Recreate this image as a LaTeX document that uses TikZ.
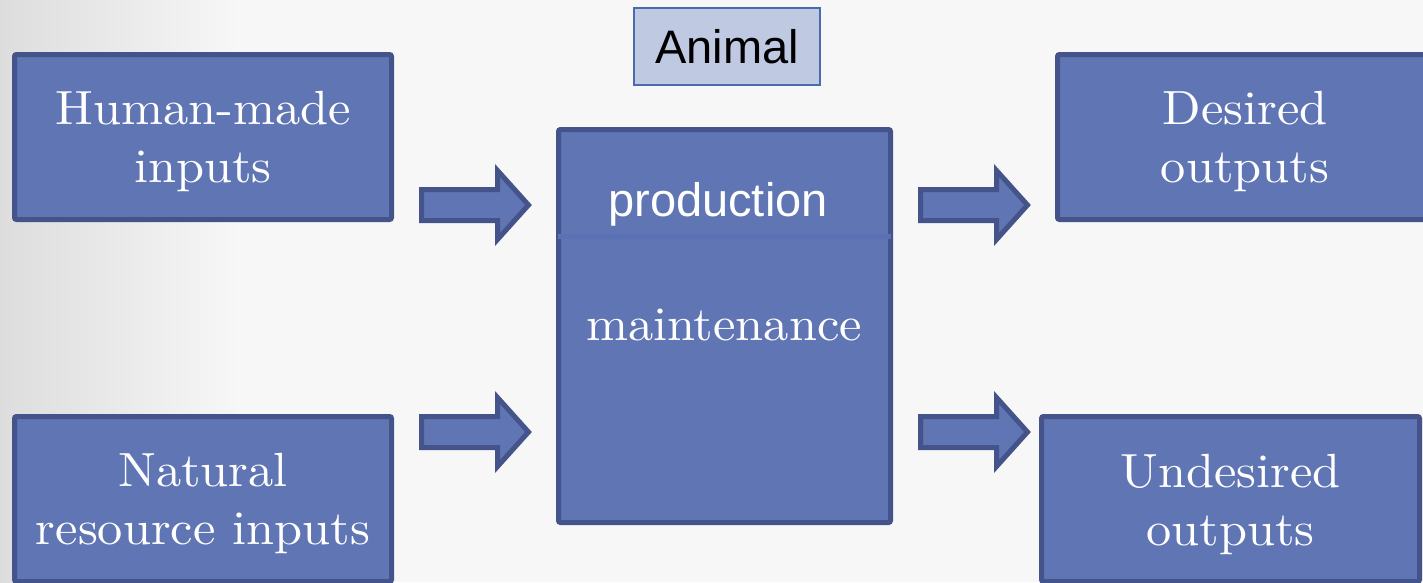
\documentclass[tikz,border=0pt]{standalone}
\usepackage{fontspec}
\newfontfamily\arialfont{Liberation Sans}
\newfontfamily\bookfont{lmroman10-regular.otf}[FakeStretch=1.05]
\usetikzlibrary{calc}
\definecolor{boxfill}{HTML}{6075B3}
\definecolor{boxline}{HTML}{44548A}
\definecolor{tagfill}{HTML}{BFC9E2}
\definecolor{tagline}{HTML}{4A6BB0}
\definecolor{sepline}{HTML}{5B71B4}
\definecolor{bgmain}{HTML}{F7F7F7}
\definecolor{bgedge}{HTML}{DDDDDD}
\tikzset{
  blockbox/.style={draw=boxline, fill=boxfill, line width=5pt, rounded corners=2pt,
    minimum width=377pt, minimum height=165pt, inner sep=0pt},
  seriftext/.style={text=white, align=center, inner sep=0pt,
    font=\bookfont\fontsize{48}{58}\selectfont},
  sanstext/.style={text=white, inner sep=0pt, font=\arialfont\fontsize{47}{54}\selectfont},
  blockarr/.style={draw=boxline, fill=boxfill, line width=5pt, line join=miter},
}
\newcommand{\blockarrow}[1]{%
  \draw[blockarr] (#1) ++(-53.5,-15.5) -- ++(76,0) -- ++(0,-19) -- ++(31,34.5)
    -- ++(-31,34.5) -- ++(0,-19) -- ++(-76,0) -- cycle;}
\begin{document}
\begin{tikzpicture}[x=1pt, y=-1pt]
  % page and soft background
  \useasboundingbox (0,0) rectangle (1423,582);
  \clip (0,0) rectangle (1423,582);
  \fill[bgmain] (0,0) rectangle (1423,582);
  \shade[left color=bgedge, right color=bgmain] (0,0) rectangle (240,582);

  % input boxes (text anchored on the baseline of its last line)
  \node[blockbox] (hm) at (203,137) {};
  \node[seriftext, anchor=base] (hmt) at (203,182) {Human-made\\inputs};
  \node[blockbox] (nr) at (203,499) {};
  \node[seriftext, anchor=base] (nrt) at (203,544) {Natural\\resource inputs};

  % central animal box
  \node[blockbox, minimum width=332pt, minimum height=393pt] (an) at (724.5,326) {};
  \draw[sepline, line width=5pt] ($(an.north west)+(2,109)$) coordinate (sl) -- ($(an.north east)+(-2,109)$) coordinate (sr);
  \node[sanstext, anchor=base] (prod) at (718,216) {production};
  \node[seriftext, anchor=base] (maint) at (724,340) {maintenance};
  \node[draw=tagline, fill=tagfill, line width=1.5pt, minimum width=186pt, minimum height=77pt,
        inner sep=0pt, text=black, font=\arialfont\fontsize{47}{54}\selectfont] (tag) at (727,46.5) {Animal};

  % output boxes
  \node[blockbox, minimum width=375pt] (de) at (1245,137) {};
  \node[seriftext, anchor=base] (det) at (1245,182) {Desired\\outputs};
  \node[blockbox, minimum width=378pt] (ud) at (1230.5,499) {};
  \node[seriftext, anchor=base] (udt) at (1230.5,545) {Undesired\\outputs};

  % block arrows between the boxes
  \coordinate (a1) at ($(hm.east)!0.5!(an.west)$);
  \coordinate (i1) at (a1 |- 0,205);
  \coordinate (i2) at (a1 |- 0,432);
  \coordinate (a2) at ($(an.east)!0.5!(de.west)$);
  \coordinate (o1) at (a2 |- 0,205);
  \coordinate (o2) at (a2 |- 0,432);
  \blockarrow{i1}
  \blockarrow{i2}
  \blockarrow{o1}
  \blockarrow{o2}
\end{tikzpicture}
\end{document}
